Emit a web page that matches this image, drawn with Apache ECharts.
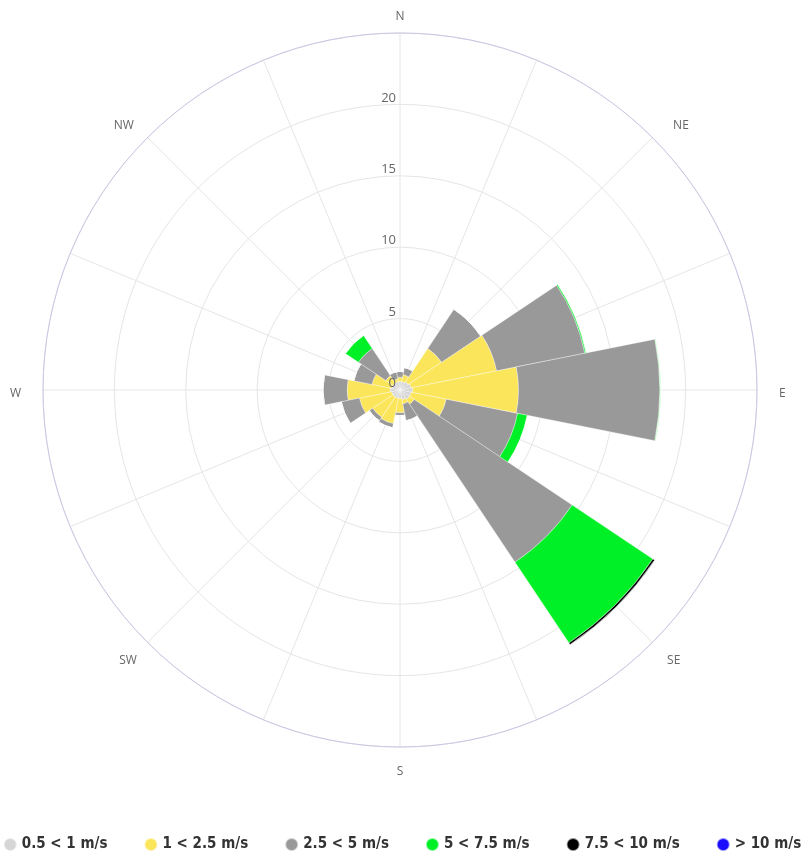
<!DOCTYPE html>
<html>
<head>
<meta charset="utf-8">
<script src="https://cdn.jsdelivr.net/npm/echarts@6/dist/echarts.min.js"></script>
<style>
    html, body { margin: 0; padding: 0; background: #fff; }
    #windRose { width: 804px; height: 859px; }
</style>
</head>
<body>
<div id="windRose"></div>
<script>
    // 方位（16 个）
    var directions = ['N', 'NNE', 'NE', 'ENE', 'E', 'ESE', 'SE', 'SSE',
                      'S', 'SSW', 'SW', 'WSW', 'W', 'WNW', 'NW', 'NNW'];
    var radiusTicks = [0, 5, 10, 15, 20, 25];

    // 每个风速段的频率（%），按 directions 顺序，堆叠显示
    var speed05to1 = [0.6, 0.6, 0.7, 0.8, 0.9, 0.8, 0.8, 0.7, 0.6, 0.6, 0.6, 0.6, 0.7, 0.6, 0.6, 0.6];
    var speed1to25 = [0.3, 0.5, 2.8, 6.1, 7.4, 2.5, 0.4, 0.3, 1.0, 1.8, 1.7, 2.3, 3.0, 1.4, 0.6, 0.2];
    var speed25to5 = [0.4, 0.5, 3.3, 6.3, 9.9, 5.1, 13.3, 1.2, 0.2, 0.3, 0.3, 1.3, 1.7, 1.3, 2.3, 0.5];
    var speed5to75 = [0, 0, 0, 0.1, 0.05, 0.7, 6.8, 0, 0, 0, 0, 0, 0, 0, 1.1, 0];
    var speed75to10 = [0, 0, 0, 0, 0, 0, 0.15, 0, 0, 0, 0, 0, 0, 0, 0, 0];
    var speedOver10 = [0, 0, 0, 0, 0, 0, 0, 0, 0, 0, 0, 0, 0, 0, 0, 0];

    var seriesNames = ['0.5 < 1 m/s', '1 < 2.5 m/s', '2.5 < 5 m/s', '5 < 7.5 m/s', '7.5 < 10 m/s', '> 10 m/s'];
    var seriesData = [speed05to1, speed1to25, speed25to5, speed5to75, speed75to10, speedOver10];
    var colors = ['#d6d6d6', '#fbe55b', '#999999', '#00f028', '#000000', '#1a0dff'];

    var chart = echarts.init(document.getElementById('windRose'));

    // 方位标签微调（让文字中心落在圆外同一距离上）
    var labelPad = {
        N: [0, 0, 2, 0], NE: [0, 0, 0, 15], E: [8, 0, 0, 14], SE: [6, 0, 0, 9],
        S: [11, 0, 0, 0], SW: [6, 5, 0, 0], W: [8, 14, 0, 0], NW: [0, 8, 0, 0]
    };
    var labelRich = {};
    Object.keys(labelPad).forEach(function (k) {
        labelRich[k] = { padding: labelPad[k], color: '#666', fontSize: 12, fontFamily: 'Open Sans' };
    });

    var series = seriesNames.map(function (name, i) {
        return {
            name: name,
            type: 'bar',
            coordinateSystem: 'polar',
            polarIndex: 1,
            stack: 'wind',
            barCategoryGap: '0%',
            z: 3,
            data: seriesData[i],
            itemStyle: {
                color: colors[i],
                borderColor: 'rgba(255,255,255,0.55)',
                borderWidth: 0.6
            }
        };
    });

    var option = {
        backgroundColor: '#fff',
        animation: false,
        color: colors,
        polar: [
            { center: [400, 390], radius: 357 },   // 网格
            { center: [400, 390], radius: 357 },   // 数据
            { center: [400, 390], radius: 357 }    // 刻度文字
        ],
        angleAxis: [{
            polarIndex: 0,
            type: 'value',
            min: 0,
            max: 360,
            interval: 22.5,
            startAngle: 90,
            clockwise: true,
            axisLine: { lineStyle: { color: '#c8c8e6', width: 1 } },
            axisTick: { show: false },
            axisLabel: {
                margin: 8,
                rich: labelRich,
                formatter: function (v) {
                    var idx = Math.round(v / 22.5);
                    if (idx % 2 || idx >= 16) return '';
                    var name = directions[idx];
                    return '{' + name + '|' + name + '}';
                }
            },
            splitLine: { show: true, lineStyle: { color: '#e6e6e6', width: 1 } },
            z: 2
        }, {
            polarIndex: 1,
            type: 'category',
            data: directions,
            boundaryGap: true,
            startAngle: 90 + 11.25,
            clockwise: true,
            axisLine: { show: false },
            axisTick: { show: false },
            axisLabel: { show: false },
            splitLine: { show: false }
        }, {
            polarIndex: 2,
            type: 'value',
            min: 0,
            max: 360,
            startAngle: 90,
            axisLine: { show: false },
            axisTick: { show: false },
            axisLabel: { show: false },
            splitLine: { show: false }
        }],
        radiusAxis: [{
            polarIndex: 0,
            type: 'value',
            min: radiusTicks[0],
            max: radiusTicks[radiusTicks.length - 1],
            interval: 5,
            axisLine: { show: false },
            axisTick: { show: false },
            axisLabel: { show: false },
            splitLine: { show: true, lineStyle: { color: '#e6e6e6', width: 1 } },
            z: 1
        }, {
            polarIndex: 1,
            type: 'value',
            min: radiusTicks[0],
            max: radiusTicks[radiusTicks.length - 1],
            axisLine: { show: false },
            axisTick: { show: false },
            axisLabel: { show: false },
            splitLine: { show: false }
        }, {
            polarIndex: 2,
            type: 'value',
            min: radiusTicks[0],
            max: radiusTicks[radiusTicks.length - 1],
            interval: 5,
            axisLine: { show: false },
            axisTick: { show: false },
            splitLine: { show: false },
            axisLabel: {
                color: '#666',
                fontSize: 13,
                fontFamily: 'Open Sans',
                align: 'right',
                verticalAlign: 'bottom',
                margin: 4,
                showMaxLabel: false,
                formatter: function (v) { return v >= 25 ? '' : v; }
            },
            z: 10
        }],
        legend: {
            data: seriesNames,
            bottom: 7,
            left: 'center',
            padding: 0,
            icon: 'circle',
            itemWidth: 13,
            itemHeight: 13,
            itemGap: 36,
            textStyle: {
                color: '#333',
                fontSize: 15,
                fontWeight: 'bold',
                fontFamily: 'DejaVu Sans Condensed'
            }
        },
        series: series
    };

    chart.setOption(option);
</script>
</body>
</html>
